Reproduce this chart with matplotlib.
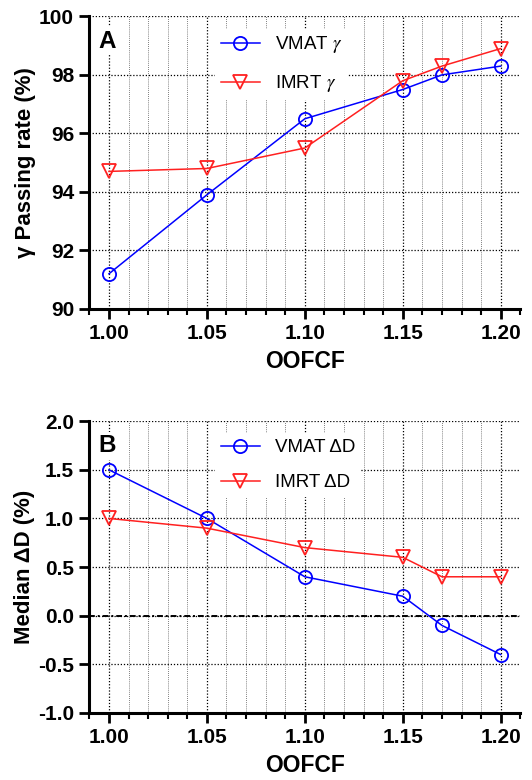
import matplotlib
matplotlib.use("Agg")
import matplotlib.pyplot as plt
from matplotlib.ticker import MultipleLocator

plt.rcParams['font.family'] = ['Liberation Sans', 'DejaVu Sans']
plt.rcParams['mathtext.fontset'] = 'stix'

oofcf = [1.00, 1.05, 1.10, 1.15, 1.17, 1.20]
vmat_gamma = [91.2, 93.9, 96.5, 97.5, 98.0, 98.3]
imrt_gamma = [94.7, 94.8, 95.5, 97.8, 98.3, 98.9]
vmat_dd = [1.5, 1.0, 0.4, 0.2, -0.1, -0.4]
imrt_dd = [1.0, 0.9, 0.7, 0.6, 0.4, 0.4]
xticks = [1.00, 1.05, 1.10, 1.15, 1.20]


def style_axis(ax, ylim, ystep, letter, yfmt):
    ax.set_xlim(0.99, 1.21)
    ax.set_ylim(*ylim)
    ax.set_xticks(xticks)
    ax.set_xticklabels(['%.2f' % t for t in xticks])
    ax.xaxis.set_minor_locator(MultipleLocator(0.01))
    ax.yaxis.set_major_locator(MultipleLocator(ystep))
    ax.set_yticks(ax.get_yticks())
    ax.set_yticklabels([yfmt % v for v in ax.get_yticks()])
    ax.set_ylim(*ylim)
    for s in ['top', 'right']:
        ax.spines[s].set_visible(False)
    for s in ['left', 'bottom']:
        ax.spines[s].set_linewidth(2.2)
    ax.tick_params(which='major', direction='out', length=7, width=2,
                   labelsize=15, pad=4)
    ax.tick_params(which='minor', direction='out', length=4, width=1.5)
    for lab in ax.get_xticklabels() + ax.get_yticklabels():
        lab.set_fontweight('bold')
    ax.grid(which='major', axis='both', color='black', linestyle=(0, (1, 1.5)),
            linewidth=0.9)
    ax.grid(which='minor', axis='x', color='#555555', linestyle=(0, (1, 1.5)),
            linewidth=0.6)
    ax.set_axisbelow(True)
    ax.set_xlabel('OOFCF', fontsize=16.5, fontweight='bold', labelpad=5)
    ax.text(0.02, 0.955, letter, transform=ax.transAxes, fontsize=17.5,
            fontweight='bold', va='top', ha='left',
            bbox=dict(facecolor='white', edgecolor='none', pad=2))


fig = plt.figure(figsize=(5.32, 7.8), dpi=100)
ax1 = fig.add_axes([0.168, 0.604, 0.81, 0.375])
ax2 = fig.add_axes([0.168, 0.086, 0.81, 0.374])

ax1.plot(oofcf, vmat_gamma, color='blue', marker='o', mfc='none', ms=9.5,
         mew=1.3, lw=1.1, label=r'VMAT $\gamma$')
ax1.plot(oofcf, imrt_gamma, color='#ff2020', marker='v', mfc='none', ms=10.5,
         mew=1.3, lw=1.1, label=r'IMRT $\gamma$')
style_axis(ax1, (90, 100), 2, 'A', '%d')
ax1.set_ylabel('γ Passing rate (%)', fontsize=16, fontweight='bold', labelpad=2)

ax2.axhline(0, color='black', linestyle=(0, (3, 1.5, 1, 1.5)), linewidth=1.4,
            zorder=1)
ax2.plot(oofcf, vmat_dd, color='blue', marker='o', mfc='none', ms=9.5,
         mew=1.3, lw=1.1, label='VMAT ΔD')
ax2.plot(oofcf, imrt_dd, color='#ff2020', marker='v', mfc='none', ms=10.5,
         mew=1.3, lw=1.1, label='IMRT ΔD')
style_axis(ax2, (-1.0, 2.0), 0.5, 'B', '%.1f')
ax2.set_ylabel('Median ΔD (%)', fontsize=16, fontweight='bold', labelpad=2)

for ax in (ax1, ax2):
    ax.legend(loc='upper left', bbox_to_anchor=(0.27, 0.99), fontsize=13.5,
              frameon=True, fancybox=False, edgecolor='none',
              framealpha=1, handlelength=2.1, handletextpad=0.8,
              labelspacing=0.95, borderpad=0.3)

fig.savefig('out.png', dpi=100)
